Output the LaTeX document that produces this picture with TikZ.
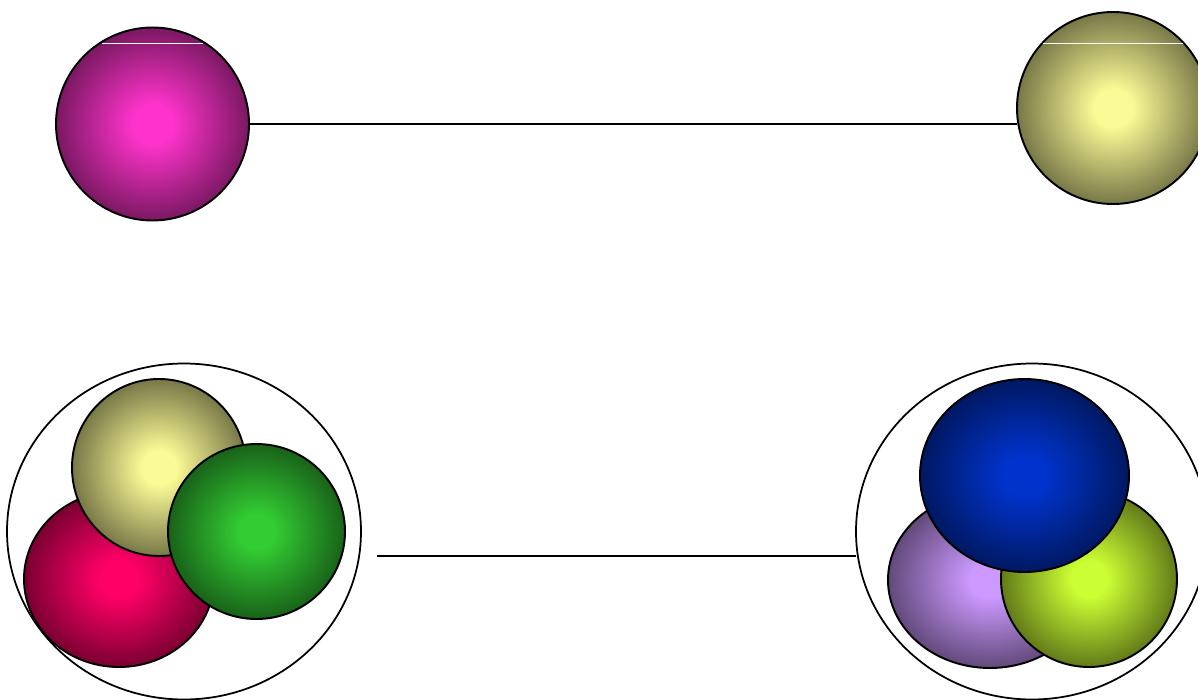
\documentclass[tikz,border=0pt]{standalone}
\usepackage{xcolor}
\usepackage{tikz}
\usetikzlibrary{shapes.geometric}

\definecolor{magentaball}{HTML}{FF33CC}
\definecolor{oliveball}{HTML}{FAFA96}
\definecolor{redball}{HTML}{FF0066}
\definecolor{greenball}{HTML}{33CC33}
\definecolor{purpleball}{HTML}{CC99FF}
\definecolor{limeball}{HTML}{CCFF33}
\definecolor{blueball}{HTML}{0033CC}

% Soft glow: flat core, then a fall-off to half-dark rim
\newcommand{\declareglow}[1]{%
  \pgfdeclareradialshading{glow#1}{\pgfpoint{0bp}{0bp}}{%
    color(0bp)=(#1ball); color(5bp)=(#1ball);
    color(25bp)=(#1ball!48!black); color(50bp)=(#1ball!48!black)}}
\declareglow{magenta}
\declareglow{olive}
\declareglow{red}
\declareglow{green}
\declareglow{purple}
\declareglow{lime}
\declareglow{blue}

\begin{document}
\begin{tikzpicture}[
  x=0.02cm, y=-0.02cm,
  ball/.style  = {ellipse, draw, line width=1.1pt, inner sep=0pt, outer sep=0pt,
                  shading=glow#1},
  shell/.style = {ellipse, draw, line width=1pt, inner sep=0pt, outer sep=0pt},
  dims/.style 2 args = {minimum width=#1*\unitpx, minimum height=#2*\unitpx},
  link/.style  = {line width=1.1pt},
  glint/.style = {white, line width=0.5pt},
]

%% ── Shared scale: 1 unit = one pixel of the 1198x700 frame ─────────────
\def\unitpx{0.02cm}
\useasboundingbox (0,0) rectangle (1198,700);

% ── TOP ROW: SINGLE BALLS ──────────────────────────────────────────────
\node[ball=magenta, dims={193}{193}] (magenta) at (152.5,124) {};
\node[ball=olive,   dims={192}{192}] (olive)   at (1113,108)  {};

% Thin glints across the upper caps
\draw[glint] (102,43)  -- (203,43);
\draw[glint] (1043,43) -- (1183,43);

% Connector
\draw[link] (magenta.east) -- (magenta.east -| olive.west);

% ── BOTTOM LEFT: RED / OLIVE / GREEN CLUSTER ──────────────────────────
\node[shell, dims={354}{336}] (lgroup) at (184,531.5) {};
\node[ball=red,   dims={190}{176}] (red)    at (119,579)     {};
\node[ball=olive, dims={174}{177}] (olivel) at (159,467.5)   {};
\node[ball=green, dims={177}{175}] (green)  at (256.5,531.5) {};

% ── BOTTOM RIGHT: PURPLE / LIME / BLUE CLUSTER ────────────────────────
\node[shell, dims={352}{336}] (rgroup) at (1032,531.5) {};
\node[ball=purple, dims={204}{176}] (purple) at (990,580)      {};
\node[ball=lime,   dims={176}{176}] (lime)   at (1089,579)     {};
\node[ball=blue,   dims={209}{193}] (blue)   at (1024.5,475.5) {};

% Connector between the clusters
\coordinate (gap) at (377,556);
\draw[link] (gap) -- (gap -| rgroup.west);

\end{tikzpicture}
\end{document}
